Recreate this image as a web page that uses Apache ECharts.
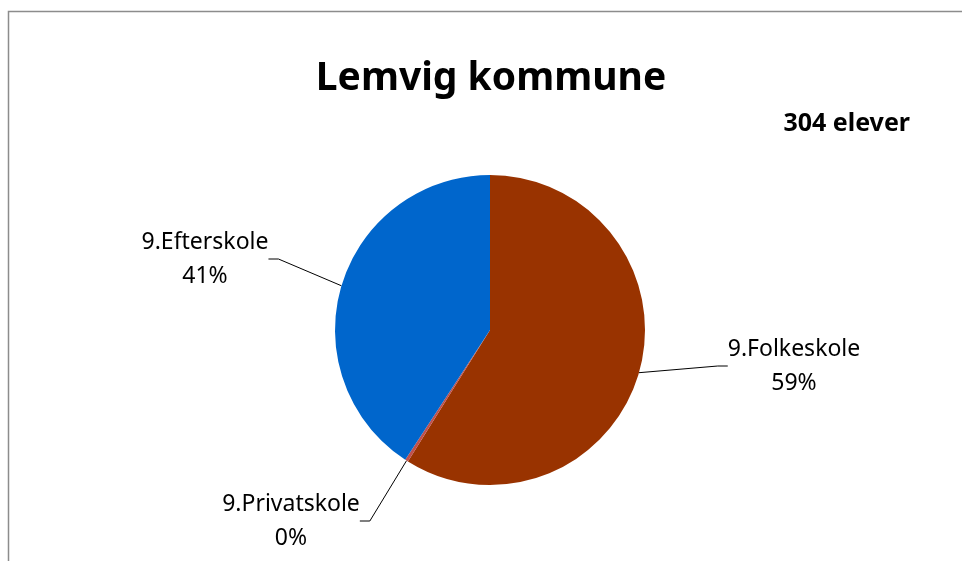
<!DOCTYPE html>
<html><head><meta charset="utf-8">
<script src="https://cdn.jsdelivr.net/npm/echarts@6/dist/echarts.min.js"></script>
<style>html,body{margin:0;padding:0;background:#fff}#c{width:962px;height:561px}</style>
</head><body><div id="c"></div>
<script>
// ---- data ----
const categories = ['9.Folkeskole', '9.Privatskole', '9.Efterskole'];
const students = [179, 1, 124];
const titleText = 'Lemvig kommune';
const subtitleText = '304 elever';

// ---- styles / layout ----
const colors = ['#993300', '#C0504D', '#0066CC'];
const labelCenters = [[794, 366], [291, 521], [205, 259]];
const FONT = '"Noto Sans", sans-serif';

const chart = echarts.init(document.getElementById('c'), null, { renderer: 'canvas' });
chart.setOption({
  animation: false,
  backgroundColor: '#fff',
  graphic: [
    { type: 'rect', silent: true, shape: { x: 8.5, y: 11.5, width: 1000, height: 600 },
      style: { fill: 'none', stroke: '#8c8c8c', lineWidth: 1.5 } },
    { type: 'text', x: 491, y: 79,
      style: { text: titleText, font: 'bold 39px ' + FONT, fill: '#000', align: 'center', verticalAlign: 'middle' } },
    { type: 'text', x: 910, y: 124,
      style: { text: subtitleText, font: 'bold 25px ' + FONT, fill: '#000', align: 'right', verticalAlign: 'middle' } }
  ],
  series: [{
    type: 'pie',
    center: [490, 330],
    radius: 155,
    startAngle: 90,
    clockwise: true,
    avoidLabelOverlap: false,
    percentPrecision: 0,
    itemStyle: { borderWidth: 0 },
    data: categories.map((n, i) => ({ name: n, value: students[i], itemStyle: { color: colors[i] } })),
    label: {
      show: true, position: 'outside',
      formatter: '{t|{b}}\n{t|{d}%}',
      rich: { t: { fontFamily: FONT, fontSize: 23, lineHeight: 34, color: '#000', align: 'center' } }
    },
    labelLine: { show: true, length: 20, length2: 10, smooth: false, lineStyle: { color: '#000', width: 1 } },
    labelLayout: function (p) {
      const c = labelCenters[p.dataIndex];
      return { x: c[0], y: c[1], align: 'center', verticalAlign: 'middle' };
    },
    emphasis: { disabled: true }
  }]
});
</script></body></html>
